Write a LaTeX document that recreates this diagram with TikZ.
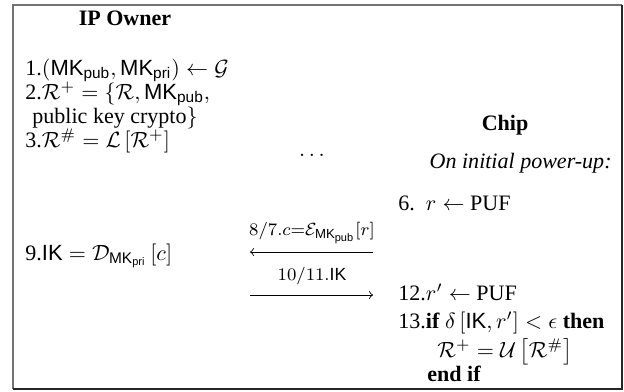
\documentclass[tikz,border=0pt]{standalone}
\usepackage{amsmath}
\usepackage[no-math]{fontspec}
\setmainfont{Liberation Serif}
\setsansfont{Liberation Sans}
\begin{document}
\begin{tikzpicture}[x=0.454pt,y=-0.454pt,
  txt/.style={inner sep=0pt,anchor=base west},
  lbl/.style={inner sep=0pt,anchor=base,font=\footnotesize},
  msg/.style={->,line width=0.4pt},
  frameA/.style={draw=black!55,line width=0.7pt},
  frameB/.style={draw=black!85,line width=0.7pt}]
\useasboundingbox (0,0) rectangle (624,391);
% frame
\draw[frameA] (13,389) -- (13,5) -- (622,5);
\draw[frameB] (622,5) -- (622,389) -- (13,389);
% headings
\node[inner sep=0pt,anchor=base,font=\bfseries] (owner) at (125,25) {IP Owner};
\node[inner sep=0pt,anchor=base,font=\bfseries] (chip) at (505,130) {Chip};
% IP owner steps
\node[txt] (s1) at (25,75) {1.$(\textsf{MK}_{\textsf{pub}}, \textsf{MK}_{\textsf{pri}}) \leftarrow \mathcal{G}$};
\node[txt] (s2) at (25,99) {2.$\mathcal{R}^{+} = \{\mathcal{R}, \textsf{MK}_{\textsf{pub}},$};
\node[txt] (s2b) at (32,123) {public key crypto$\}$};
\node[txt] (s3) at (25,147) {3.$\mathcal{R}^{\#} = \mathcal{L}\left[\mathcal{R}^{+}\right]$};
\node[txt] (s9) at (25,260) {9.$\textsf{IK} = \mathcal{D}_{\textsf{MK}_{\textsf{pri}}}\left[c\right]$};
% dots
\node[inner sep=0pt] (dots) at (312,155) {$\ldots$};
% chip steps
\node[inner sep=0pt,anchor=base east,font=\itshape] (init) at (612,168) {On initial power-up:};
\node[txt] (s6) at (398,210) {6.\ \ $r \leftarrow$ PUF};
\node[txt] (s12) at (398,300) {12.$r' \leftarrow$ PUF};
\node[txt] (s13) at (398,328) {13.\textbf{if} $\delta\,[\textsf{IK}, r'] < \epsilon$ \textbf{then}};
\node[txt] (s13b) at (437,357) {$\mathcal{R}^{+} = \mathcal{U}\left[\mathcal{R}^{\#}\right]$};
\node[txt,font=\bfseries] (s13c) at (427,381) {end if};
% messages
\coordinate (a1r) at (373,252);
\coordinate (a1l) at (250,252);
\coordinate (a2l) at (250,295);
\coordinate (a2r) at (373,295);
\draw[msg] (a1r) -- (a1l);
\draw[msg] (a2l) -- (a2r);
\node[lbl] (m1) at (312,235) {$8/7.c{=}\mathcal{E}_{\textsf{MK}_{\textsf{pub}}}[r]$};
\node[lbl] (m2) at (312,280) {$10/11.\textsf{IK}$};
\end{tikzpicture}
\end{document}
